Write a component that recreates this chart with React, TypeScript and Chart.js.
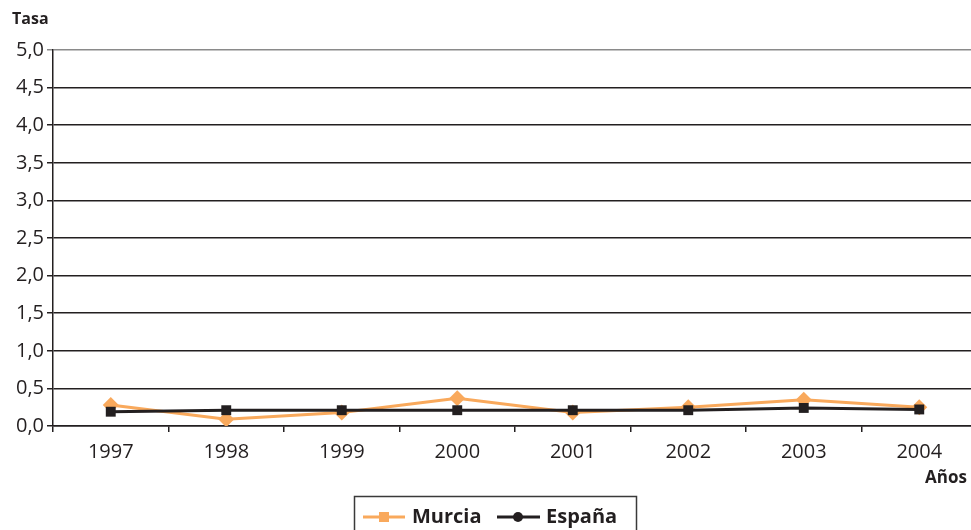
import React, { useEffect, useRef } from "react";
import { Chart, registerables } from "chart.js";

Chart.register(...registerables);

const years = ["1997", "1998", "1999", "2000", "2001", "2002", "2003", "2004"];
const murcia = [0.28, 0.09, 0.18, 0.37, 0.18, 0.25, 0.35, 0.25];
const espana = [0.19, 0.21, 0.21, 0.21, 0.21, 0.21, 0.24, 0.22];
const yTicks = [0, 0.5, 1, 1.5, 2, 2.5, 3, 3.5, 4, 4.5, 5];

const ORANGE = "#F9A95C";
const BLACK = "#231F20";
const FONT = "'Open Sans', 'Noto Sans', sans-serif";

const overlay = {
  id: "overlay",
  afterDraw(chart: any) {
    const ctx = chart.ctx as CanvasRenderingContext2D;
    ctx.save();
    ctx.fillStyle = BLACK;
    ctx.font = `bold 16px ${FONT}`;
    ctx.textBaseline = "middle";
    ctx.textAlign = "left";
    ctx.fillText("Tasa", 12, 19);
    ctx.font = `bold 17px ${FONT}`;
    ctx.textAlign = "right";
    ctx.fillText("Años", 967, 478);

    // legend box
    ctx.strokeStyle = "#3a3a3a";
    ctx.lineWidth = 1.5;
    ctx.strokeRect(354.5, 496.5, 282, 40);
    const ly = 517;
    // Murcia
    ctx.strokeStyle = ORANGE;
    ctx.lineWidth = 3;
    ctx.beginPath();
    ctx.moveTo(363, ly);
    ctx.lineTo(405, ly);
    ctx.stroke();
    ctx.fillStyle = ORANGE;
    ctx.fillRect(379, ly - 5, 10, 10);
    // España
    ctx.strokeStyle = BLACK;
    ctx.beginPath();
    ctx.moveTo(497, ly);
    ctx.lineTo(540, ly);
    ctx.stroke();
    ctx.fillStyle = BLACK;
    ctx.beginPath();
    ctx.arc(518, ly, 5, 0, Math.PI * 2);
    ctx.fill();
    ctx.font = `bold 20px ${FONT}`;
    ctx.textAlign = "left";
    ctx.fillStyle = BLACK;
    ctx.fillText("Murcia", 412, ly);
    ctx.fillText("España", 546, ly);
    ctx.restore();
  },
};

export default function App() {
  const ref = useRef<HTMLCanvasElement>(null);
  useEffect(() => {
    document.body.style.margin = "0";
    const chart = new Chart(ref.current!, {
      type: "line",
      data: {
        labels: years,
        datasets: [
          {
            label: "Murcia",
            data: murcia,
            borderColor: ORANGE,
            backgroundColor: ORANGE,
            borderWidth: 3,
            pointStyle: "rectRot",
            pointRadius: 8,
            pointBorderWidth: 0,
            order: 2,
          },
          {
            label: "España",
            data: espana,
            borderColor: BLACK,
            backgroundColor: BLACK,
            borderWidth: 3,
            pointStyle: "rect",
            pointRadius: 7,
            pointBorderWidth: 0,
            order: 1,
          },
        ],
      },
      options: {
        animation: false,
        responsive: false,
        layout: { padding: { top: 50, right: 0, left: 0, bottom: 0 } },
        plugins: { legend: { display: false }, tooltip: { enabled: false } },
        scales: {
          x: {
            offset: true,
            grid: {
              offset: true,
              drawOnChartArea: false,
              drawTicks: true,
              tickLength: 6,
              color: BLACK,
              lineWidth: 1.5,
            },
            border: { color: BLACK, width: 1.5 },
            ticks: { color: BLACK, font: { family: FONT, size: 20 }, padding: 8 },
            afterFit(scale: any) {
              scale.height = 104;
            },
          },
          y: {
            min: 0,
            max: 5,
            afterBuildTicks(scale: any) {
              scale.ticks = yTicks.map((v) => ({ value: v }));
            },
            grid: {
              color: (c: any) => (c.tick && c.tick.value === 5 ? "#8a8a8a" : BLACK),
              lineWidth: 1.5,
              tickLength: 6,
            },
            border: { color: BLACK, width: 1.5 },
            ticks: {
              color: BLACK,
              font: { family: FONT, size: 20 },
              padding: 3,
              callback: (v: any) => Number(v).toFixed(1).replace(".", ","),
            },
            afterFit(scale: any) {
              scale.width = 53;
            },
          },
        },
      },
      plugins: [overlay],
    });
    return () => chart.destroy();
  }, []);
  return (
    <div style={{ position: "fixed", left: 0, top: 0, width: 971, height: 530, overflow: "hidden" }}>
      <canvas ref={ref} width={985} height={530} style={{ width: 985, height: 530 }} />
    </div>
  );
}
